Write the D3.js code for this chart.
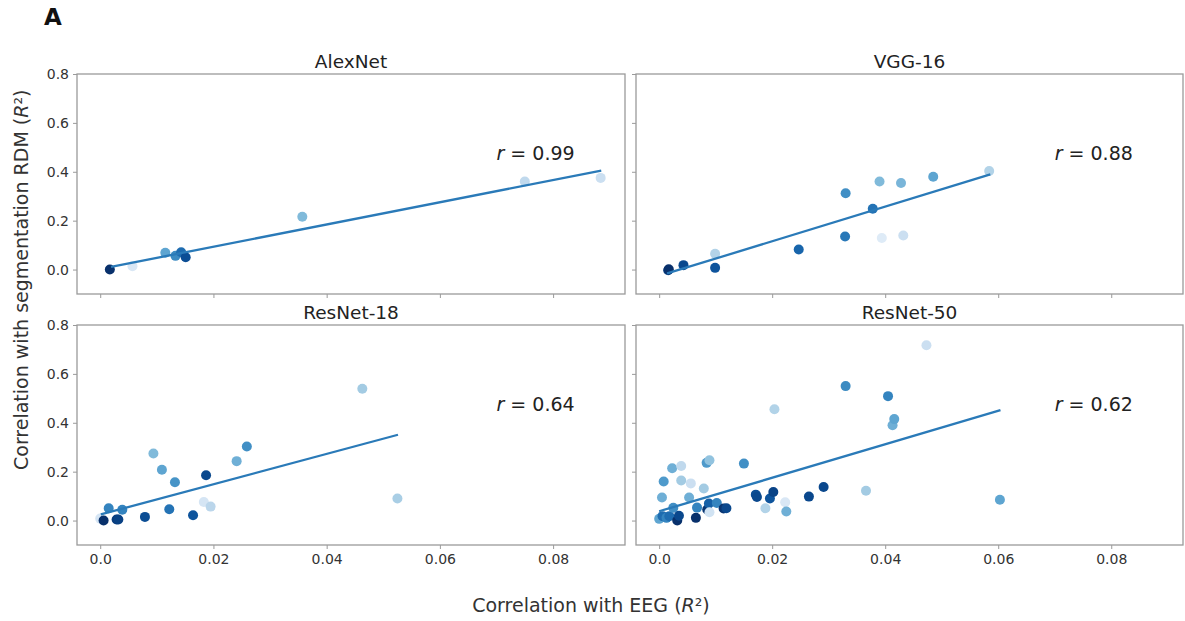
<!DOCTYPE html>
<html>
<head>
<meta charset="utf-8">
<script src="https://cdn.jsdelivr.net/npm/d3@7"></script>
<style>
  body { margin: 0; background: #fff; }
  svg { font-family: "DejaVu Sans", sans-serif; }
</style>
</head>
<body>
<svg id="chart" width="1185" height="621"></svg>
<script>
// values: x = correlation with EEG, y = correlation with segmentation RDM
// shade = position in the Blues colour map (0 light .. 1 navy)
let alexEeg   = [0.0017, 0.0057, 0.0115, 0.0133, 0.0143, 0.0151, 0.0357, 0.0750, 0.0884]
let alexSeg   = [0.000, 0.014, 0.069, 0.056, 0.071, 0.050, 0.216, 0.360, 0.375]
let alexShade = [1.0, 0.08, 0.5, 0.62, 0.75, 0.88, 0.4, 0.2, 0.15]

let vggEeg   = [0.0016, 0.0017, 0.0043, 0.0099, 0.0099, 0.0247, 0.0330, 0.0329, 0.0378, 0.0390, 0.0394, 0.0428, 0.0432, 0.0485, 0.0584]
let vggSeg   = [-0.003, 0.001, 0.018, 0.065, 0.007, 0.082, 0.312, 0.135, 0.249, 0.360, 0.129, 0.354, 0.139, 0.380, 0.403]
let vggShade = [0.95, 1.0, 0.9, 0.25, 0.85, 0.78, 0.6, 0.7, 0.72, 0.4, 0.05, 0.42, 0.15, 0.5, 0.25]

let res18Eeg   = [0.0000, 0.0006, 0.0015, 0.0029, 0.0032, 0.0039, 0.0079, 0.0094, 0.0109, 0.0132, 0.0122, 0.0164, 0.0183, 0.0187, 0.0195, 0.0241, 0.0259, 0.0463, 0.0525]
let res18Seg   = [0.008, 0.000, 0.050, 0.004, 0.004, 0.044, 0.015, 0.274, 0.208, 0.157, 0.046, 0.022, 0.076, 0.185, 0.057, 0.243, 0.303, 0.539, 0.090]
let res18Shade = [0.1, 1.0, 0.65, 0.95, 0.93, 0.65, 0.88, 0.4, 0.5, 0.58, 0.72, 0.85, 0.1, 0.9, 0.22, 0.45, 0.6, 0.3, 0.28]

let res50Eeg = [0.0000, 0.0005, 0.0008, 0.0006, 0.0013, 0.0018, 0.0023, 0.0025, 0.0032, 0.0035,
                0.0039, 0.0039, 0.0056, 0.0053, 0.0065, 0.0067, 0.0079, 0.0084, 0.0089, 0.0085,
                0.0088, 0.0089, 0.0102, 0.0114, 0.0119, 0.0150, 0.0171, 0.0173, 0.0188, 0.0196,
                0.0202, 0.0204, 0.0223, 0.0225, 0.0265, 0.0291, 0.0330, 0.0366, 0.0405, 0.0413,
                0.0416, 0.0473, 0.0603]
let res50Seg = [0.007, 0.094, 0.160, 0.018, 0.011, 0.018, 0.214, 0.052, 0.000, 0.020,
                0.223, 0.164, 0.152, 0.094, 0.011, 0.053, 0.131, 0.236, 0.247, 0.045,
                0.070, 0.034, 0.072, 0.049, 0.050, 0.233, 0.106, 0.096, 0.050, 0.090,
                0.117, 0.455, 0.075, 0.037, 0.098, 0.137, 0.550, 0.122, 0.509, 0.390,
                0.415, 0.717, 0.085]
let res50Shade = [0.5, 0.45, 0.55, 0.75, 0.65, 0.75, 0.45, 0.6, 1.0, 0.9,
                  0.2, 0.3, 0.15, 0.45, 1.0, 0.65, 0.3, 0.55, 0.35, 0.98,
                  0.8, 0.12, 0.65, 0.98, 0.9, 0.6, 0.88, 0.9, 0.25, 0.85,
                  0.92, 0.25, 0.08, 0.45, 0.9, 0.9, 0.62, 0.3, 0.65, 0.45,
                  0.5, 0.15, 0.5]

// regression line end points and r values
let modelNames = ["AlexNet", "VGG-16", "ResNet-18", "ResNet-50"]
let fitX = [[0.0019, 0.0885], [0.0014, 0.0586], [0.0001, 0.0526], [0.0000, 0.0604]]
let fitY = [[0.011, 0.405], [-0.016, 0.389], [0.025, 0.351], [0.038, 0.452]]
let rValues = ["0.99", "0.88", "0.64", "0.62"]

let xTicks = [0, 0.02, 0.04, 0.06, 0.08]
let yTicks = [0, 0.2, 0.4, 0.6, 0.8]

let allEeg = [alexEeg, vggEeg, res18Eeg, res50Eeg]
let allSeg = [alexSeg, vggSeg, res18Seg, res50Seg]
let allShade = [alexShade, vggShade, res18Shade, res50Shade]

let svg = d3.select("#chart")

let cols = [[77, 625], [636, 1183]]
let rows = [[74, 294], [325, 545]]

let frameColor = "#9a9a9a"
let textColor = "#333"

svg.append("text")
  .attr("x", 44).attr("y", 25)
  .style("font-weight", "bold").style("font-size", "23px")
  .attr("fill", "#111")
  .text("A")

for (let i = 0; i < 4; i++) {
  let c = cols[i % 2]
  let r = rows[Math.floor(i / 2)]
  let xScale = d3.scaleLinear().domain([-0.0041, 0.0927]).range(c)
  let yScale = d3.scaleLinear().domain([-0.1, 0.8]).range([r[1], r[0]])

  let g = svg.append("g")

  g.append("text")
    .attr("x", (c[0] + c[1]) / 2).attr("y", r[0] - 6)
    .attr("text-anchor", "middle")
    .style("font-size", "18.5px").attr("fill", "#222")
    .text(modelNames[i])

  let xAxis = d3.axisBottom(xScale).tickValues(xTicks).tickSize(4).tickPadding(5)
    .tickFormat(i >= 2 ? (d => d === 0 ? "0.0" : d3.format(".2f")(d)) : "")
  let xAxisGroup = g.append("g")
    .attr("transform", `translate(0, ${r[1]})`)
    .call(xAxis)

  let yAxis = d3.axisLeft(yScale).tickValues(yTicks).tickSize(4).tickPadding(4)
    .tickFormat(i % 2 == 0 ? d3.format(".1f") : "")
  let yAxisGroup = g.append("g")
    .attr("transform", `translate(${c[0]}, 0)`)
    .call(yAxis)

  for (let ax of [xAxisGroup, yAxisGroup]) {
    ax.select(".domain").remove()
    ax.selectAll(".tick line").attr("stroke", frameColor)
    ax.selectAll(".tick text").attr("fill", textColor).style("font-size", "14px")
      .style("font-family", "DejaVu Sans, sans-serif")
  }

  g.append("rect")
    .attr("x", c[0]).attr("y", r[0])
    .attr("width", c[1] - c[0]).attr("height", r[1] - r[0])
    .attr("fill", "none").attr("stroke", frameColor).attr("stroke-width", 1.3)

  let pts = allEeg[i].map((v, k) => ({ x: v, y: allSeg[i][k], s: allShade[i][k] }))
  g.selectAll("circle")
    .data(pts)
    .enter()
    .append("circle")
    .attr("cx", d => xScale(d.x))
    .attr("cy", d => yScale(d.y))
    .attr("r", 5)
    .attr("fill", d => d3.interpolateBlues(0.08 + 0.92 * d.s))

  g.append("line")
    .attr("x1", xScale(fitX[i][0])).attr("y1", yScale(fitY[i][0]))
    .attr("x2", xScale(fitX[i][1])).attr("y2", yScale(fitY[i][1]))
    .attr("stroke", "#2a7ab8").attr("stroke-width", 2.3)

  let rt = g.append("text")
    .attr("x", xScale(0.07)).attr("y", yScale(0.45))
    .style("font-size", "19px").attr("fill", "#222")
  rt.append("tspan").style("font-style", "italic").text("r")
  rt.append("tspan").text(" = " + rValues[i])
}

let xl = svg.append("text")
  .attr("x", 591).attr("y", 612)
  .attr("text-anchor", "middle")
  .style("font-size", "19px").attr("fill", textColor)
xl.append("tspan").text("Correlation with EEG (")
xl.append("tspan").style("font-style", "italic").text("R")
xl.append("tspan").text("²)")

let yl = svg.append("text")
  .attr("transform", "translate(28, 470) rotate(-90)")
  .attr("text-anchor", "start")
  .style("font-size", "19px").attr("fill", textColor)
yl.append("tspan").text("Correlation with segmentation RDM (")
yl.append("tspan").style("font-style", "italic").text("R")
yl.append("tspan").text("²)")
</script>
</body>
</html>
